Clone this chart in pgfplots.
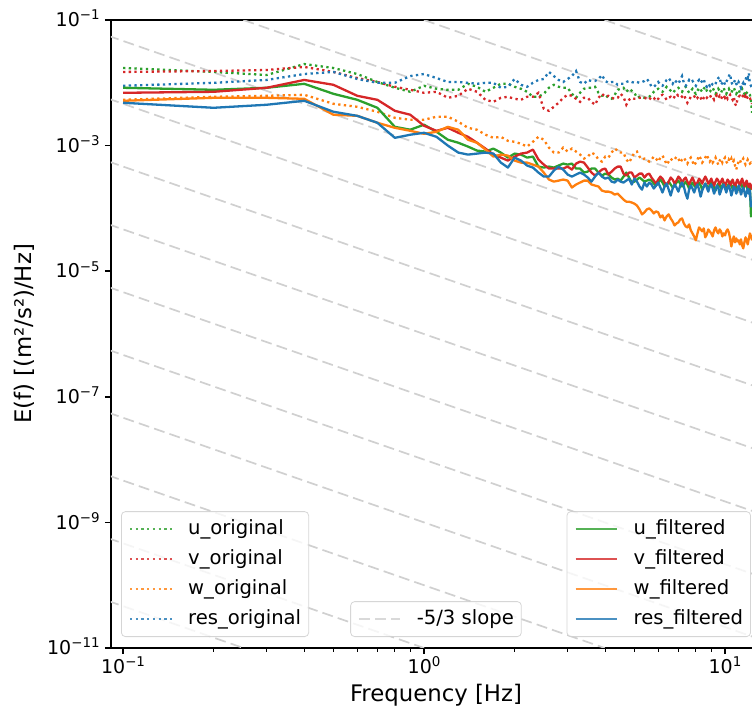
\documentclass[border=0pt]{standalone}
\usepackage{fontspec}
\setmainfont{DejaVu Sans}
\usepackage{pgfplots}
\usepackage{pgfplotstable}
\pgfplotsset{compat=1.18}

\definecolor{tabblue}{HTML}{1F77B4}
\definecolor{taborange}{HTML}{FF7F0E}
\definecolor{tabgreen}{HTML}{2CA02C}
\definecolor{tabred}{HTML}{D62728}
\definecolor{slopegray}{HTML}{D0D0D0}

\newcommand{\tl}[1]{10\raisebox{0.36em}{\fontsize{6.7}{7}\selectfont #1}}

\pgfplotstableread{
f uo vo wo ro uf vf wf rf
0.1 1.72e-2 1.49e-2 5.36e-3 8.96e-3 8.33e-3 6.93e-3 5.17e-3 4.81e-3
0.2 1.49e-2 1.54e-2 5.99e-3 1.00e-2 7.74e-3 7.19e-3 5.77e-3 4.00e-3
0.3 1.33e-2 1.60e-2 6.21e-3 1.11e-2 8.33e-3 8.33e-3 5.77e-3 4.47e-3
0.4 1.99e-2 1.79e-2 6.44e-3 1.38e-2 9.64e-3 1.11e-2 5.56e-3 5.17e-3
0.5 1.72e-2 1.49e-2 4.63e-3 1.49e-2 6.68e-3 9.29e-3 3.10e-3 3.46e-3
0.6 1.38e-2 1.19e-2 4.15e-3 1.15e-2 5.36e-3 6.21e-3 2.98e-3 2.98e-3
0.7 1.03e-2 1.03e-2 3.46e-3 1.00e-2 4.00e-3 5.36e-3 2.31e-3 2.31e-3
0.8 8.33e-3 8.64e-3 2.77e-3 1.00e-2 1.99e-3 3.58e-3 1.92e-3 1.33e-3
0.9 7.19e-3 7.74e-3 2.58e-3 1.28e-2 1.79e-3 3.10e-3 1.72e-3 1.49e-3
1.0 8.96e-3 6.93e-3 2.58e-3 1.38e-2 2.15e-3 2.07e-3 1.54e-3 1.60e-3
1.1 8.03e-3 7.19e-3 2.88e-3 1.19e-2 1.66e-3 1.72e-3 1.66e-3 1.38e-3
1.2 7.74e-3 5.77e-3 2.88e-3 1.03e-2 1.24e-3 1.92e-3 1.99e-3 1.00e-3
1.3 7.74e-3 6.21e-3 2.40e-3 1.03e-2 1.11e-3 1.60e-3 1.79e-3 7.74e-4
1.4 9.64e-3 8.03e-3 1.92e-3 1.00e-2 9.64e-4 1.38e-3 1.24e-3 7.19e-4
1.5 8.64e-3 7.19e-3 1.79e-3 9.64e-3 8.33e-4 1.11e-3 1.11e-3 7.46e-4
1.6 7.19e-3 5.36e-3 1.49e-3 1.00e-2 8.03e-4 8.96e-4 8.64e-4 7.74e-4
1.7 8.33e-3 4.98e-3 1.33e-3 1.00e-2 8.96e-4 7.19e-4 6.68e-4 7.46e-4
1.8 9.64e-3 5.77e-3 1.38e-3 8.33e-3 7.74e-4 6.44e-4 7.19e-4 5.36e-4
1.9 9.64e-3 5.99e-3 1.19e-3 8.64e-3 6.44e-4 5.77e-4 6.93e-4 4.47e-4
2.0 8.64e-3 5.56e-3 1.15e-3 1.15e-2 7.46e-4 6.68e-4 5.77e-4 6.44e-4
2.1 8.03e-3 5.36e-3 1.07e-3 9.29e-3 7.19e-4 7.46e-4 5.36e-4 5.77e-4
2.2 7.19e-3 5.99e-3 9.64e-4 8.64e-3 6.44e-4 7.74e-4 5.36e-4 4.81e-4
2.3 5.99e-3 5.99e-3 1.15e-3 1.00e-2 6.68e-4 8.64e-4 4.98e-4 4.47e-4
2.4 5.99e-3 6.93e-3 1.38e-3 1.11e-2 4.63e-4 5.99e-4 4.63e-4 3.72e-4
2.5 6.68e-3 3.86e-3 1.24e-3 1.15e-2 4.47e-4 4.98e-4 3.72e-4 3.21e-4
2.6 8.33e-3 3.58e-3 9.29e-4 1.49e-2 4.63e-4 4.31e-4 2.88e-4 3.21e-4
2.7 9.29e-3 4.15e-3 7.74e-4 1.28e-2 4.47e-4 4.31e-4 2.67e-4 4.00e-4
2.8 8.64e-3 4.81e-3 7.74e-4 1.11e-2 4.81e-4 4.31e-4 2.77e-4 4.63e-4
2.9 8.33e-3 5.77e-3 9.29e-4 1.03e-2 5.17e-4 4.31e-4 2.88e-4 4.15e-4
3.0 8.33e-3 6.44e-3 8.03e-4 1.15e-2 4.98e-4 4.63e-4 2.77e-4 3.46e-4
3.1 6.68e-3 6.21e-3 8.96e-4 1.28e-2 5.17e-4 4.15e-4 2.15e-4 3.21e-4
3.2 5.77e-3 5.56e-3 8.03e-4 1.54e-2 4.31e-4 5.17e-4 2.40e-4 3.46e-4
3.3 6.93e-3 4.98e-3 7.19e-4 1.03e-2 4.31e-4 5.56e-4 2.58e-4 3.72e-4
3.4 8.03e-3 5.77e-3 6.21e-4 9.64e-3 3.72e-4 5.36e-4 2.77e-4 3.46e-4
3.5 8.33e-3 5.77e-3 6.68e-4 1.11e-2 3.86e-4 4.47e-4 2.77e-4 3.10e-4
3.6 8.33e-3 4.98e-3 7.74e-4 1.07e-2 4.31e-4 3.72e-4 2.40e-4 2.67e-4
3.7 8.64e-3 4.47e-3 7.19e-4 1.07e-2 4.31e-4 3.33e-4 2.31e-4 3.21e-4
3.8 6.93e-3 5.77e-3 5.99e-4 1.15e-2 3.72e-4 3.72e-4 2.23e-4 3.72e-4
3.9 6.21e-3 6.68e-3 5.56e-4 1.33e-2 3.33e-4 4.15e-4 1.92e-4 3.21e-4
4.0 6.44e-3 5.99e-3 6.68e-4 1.07e-2 3.58e-4 4.31e-4 1.85e-4 2.98e-4
4.1 5.77e-3 6.21e-3 6.44e-4 1.00e-2 3.46e-4 3.46e-4 1.85e-4 3.10e-4
4.2 5.56e-3 5.77e-3 7.74e-4 1.03e-2 3.10e-4 3.86e-4 1.79e-4 2.67e-4
4.3 6.44e-3 5.56e-3 8.96e-4 1.03e-2 2.88e-4 4.31e-4 1.66e-4 2.58e-4
4.4 7.74e-3 5.77e-3 8.33e-4 9.29e-3 2.98e-4 4.63e-4 1.72e-4 2.88e-4
4.5 8.03e-3 6.68e-3 7.74e-4 9.64e-3 2.77e-4 4.63e-4 1.54e-4 2.67e-4
4.6 8.33e-3 5.99e-3 7.74e-4 9.64e-3 3.21e-4 3.58e-4 1.38e-4 2.58e-4
4.7 7.19e-3 4.47e-3 5.99e-4 1.03e-2 3.72e-4 3.33e-4 1.28e-4 2.77e-4
4.8 8.03e-3 5.36e-3 5.36e-4 1.07e-2 3.10e-4 3.72e-4 1.28e-4 2.98e-4
4.9 7.46e-3 5.77e-3 6.44e-4 1.03e-2 2.58e-4 3.72e-4 1.24e-4 2.40e-4
5.0 6.93e-3 5.56e-3 7.74e-4 1.00e-2 2.67e-4 3.10e-4 1.19e-4 2.98e-4
5.1 5.77e-3 5.56e-3 8.03e-4 1.03e-2 2.88e-4 3.33e-4 1.11e-4 2.67e-4
5.2 5.99e-3 5.77e-3 6.68e-4 1.00e-2 3.10e-4 3.58e-4 9.64e-5 2.23e-4
5.3 5.99e-3 5.77e-3 5.99e-4 1.03e-2 2.88e-4 3.58e-4 8.03e-5 1.99e-4
5.4 5.77e-3 5.77e-3 6.21e-4 1.07e-2 2.67e-4 3.10e-4 8.64e-5 2.58e-4
5.5 5.77e-3 5.56e-3 5.99e-4 1.15e-2 2.77e-4 3.46e-4 9.64e-5 2.23e-4
5.6 5.99e-3 5.36e-3 5.56e-4 1.03e-2 2.88e-4 3.58e-4 1.00e-4 2.58e-4
5.7 6.44e-3 5.99e-3 5.99e-4 8.64e-3 2.77e-4 3.10e-4 9.29e-5 2.40e-4
5.8 7.19e-3 5.77e-3 6.68e-4 8.64e-3 2.48e-4 2.77e-4 8.33e-5 2.07e-4
5.9 7.74e-3 5.17e-3 6.21e-4 9.29e-3 2.31e-4 2.48e-4 8.96e-5 2.31e-4
6.0 8.03e-3 5.56e-3 5.56e-4 1.03e-2 2.58e-4 2.88e-4 8.64e-5 2.58e-4
6.1 7.46e-3 6.21e-3 6.44e-4 9.29e-3 2.88e-4 3.21e-4 7.19e-5 2.15e-4
6.2 7.19e-3 6.44e-3 6.93e-4 8.96e-3 2.58e-4 2.98e-4 7.74e-5 1.79e-4
6.3 7.74e-3 5.99e-3 5.99e-4 1.00e-2 2.23e-4 2.58e-4 6.44e-5 2.23e-4
6.4 8.64e-3 5.36e-3 4.98e-4 1.11e-2 2.40e-4 2.31e-4 7.46e-5 2.48e-4
6.5 8.03e-3 5.77e-3 5.56e-4 1.19e-2 2.67e-4 2.67e-4 8.03e-5 1.99e-4
6.6 7.46e-3 5.99e-3 6.21e-4 1.07e-2 2.40e-4 3.10e-4 6.93e-5 1.60e-4
6.7 6.93e-3 5.56e-3 5.77e-4 9.64e-3 2.15e-4 2.88e-4 6.21e-5 2.07e-4
6.8 7.46e-3 5.99e-3 5.99e-4 1.11e-2 2.31e-4 2.48e-4 5.36e-5 2.40e-4
6.9 8.03e-3 6.68e-3 6.68e-4 1.03e-2 2.58e-4 2.77e-4 5.77e-5 2.15e-4
7.0 8.33e-3 6.21e-3 6.21e-4 9.64e-3 2.77e-4 3.21e-4 5.99e-5 1.85e-4
7.1 7.74e-3 6.44e-3 5.36e-4 1.11e-2 2.48e-4 2.98e-4 6.68e-5 2.31e-4
7.2 7.19e-3 5.99e-3 5.99e-4 1.28e-2 2.23e-4 2.58e-4 6.93e-5 2.58e-4
7.3 8.03e-3 6.44e-3 6.44e-4 1.00e-2 2.40e-4 2.88e-4 5.77e-5 2.23e-4
7.4 8.64e-3 5.56e-3 5.77e-4 8.96e-3 2.67e-4 3.10e-4 5.17e-5 1.72e-4
7.5 7.74e-3 4.81e-3 5.17e-4 9.64e-3 2.40e-4 2.67e-4 4.98e-5 1.43e-4
7.6 6.93e-3 5.36e-3 5.99e-4 1.11e-2 2.07e-4 2.40e-4 5.56e-5 1.99e-4
7.7 7.46e-3 5.99e-3 6.44e-4 1.03e-2 2.31e-4 2.77e-4 4.47e-5 2.31e-4
7.8 8.03e-3 5.77e-3 5.56e-4 1.07e-2 2.58e-4 3.10e-4 4.00e-5 2.07e-4
7.9 7.19e-3 5.99e-3 4.81e-4 9.64e-3 2.31e-4 2.67e-4 3.58e-5 1.79e-4
8.0 6.68e-3 6.44e-3 5.36e-4 8.96e-3 2.15e-4 2.31e-4 3.10e-5 2.15e-4
8.1 7.46e-3 5.77e-3 5.99e-4 1.03e-2 2.40e-4 2.58e-4 4.00e-5 2.40e-4
8.2 8.33e-3 6.21e-3 6.93e-4 1.11e-2 2.58e-4 2.98e-4 4.98e-5 1.99e-4
8.3 7.74e-3 5.77e-3 6.21e-4 1.00e-2 2.31e-4 2.77e-4 4.63e-5 1.54e-4
8.4 7.19e-3 5.17e-3 5.36e-4 1.07e-2 1.99e-4 2.48e-4 4.31e-5 1.92e-4
8.5 8.03e-3 5.77e-3 5.77e-4 1.15e-2 2.23e-4 2.88e-4 4.81e-5 2.23e-4
8.6 8.64e-3 6.21e-3 6.44e-4 9.29e-3 2.48e-4 3.21e-4 3.46e-5 2.48e-4
8.7 7.46e-3 5.77e-3 7.19e-4 8.64e-3 2.31e-4 2.88e-4 3.86e-5 2.15e-4
8.8 6.93e-3 6.21e-3 6.21e-4 9.64e-3 2.07e-4 2.48e-4 4.63e-5 1.85e-4
8.9 7.19e-3 6.44e-3 5.56e-4 8.96e-3 2.31e-4 2.67e-4 4.31e-5 2.23e-4
9.0 7.74e-3 5.77e-3 5.99e-4 1.00e-2 2.58e-4 2.98e-4 4.00e-5 2.40e-4
9.1 8.33e-3 5.99e-3 5.36e-4 9.29e-3 2.40e-4 2.58e-4 3.58e-5 2.07e-4
9.2 7.46e-3 5.36e-3 5.77e-4 8.96e-3 2.15e-4 2.31e-4 4.47e-5 1.72e-4
9.3 6.68e-3 5.99e-3 6.44e-4 9.64e-3 1.92e-4 2.67e-4 4.98e-5 1.99e-4
9.4 7.19e-3 6.44e-3 5.56e-4 1.11e-2 2.23e-4 2.98e-4 4.31e-5 2.31e-4
9.5 8.03e-3 5.77e-3 4.98e-4 1.19e-2 2.48e-4 2.77e-4 4.00e-5 2.15e-4
9.6 7.46e-3 6.21e-3 5.77e-4 1.24e-2 2.31e-4 2.40e-4 4.63e-5 1.66e-4
9.7 6.93e-3 5.56e-3 6.21e-4 9.29e-3 2.07e-4 2.67e-4 4.31e-5 1.92e-4
9.8 7.74e-3 5.99e-3 5.36e-4 1.00e-2 2.31e-4 2.98e-4 3.58e-5 2.23e-4
9.9 8.33e-3 6.44e-3 5.99e-4 1.07e-2 2.58e-4 2.58e-4 4.00e-5 2.40e-4
10.0 7.19e-3 5.77e-3 6.44e-4 9.29e-3 2.31e-4 2.23e-4 3.72e-5 2.07e-4
10.1 6.68e-3 6.21e-3 5.56e-4 1.03e-2 1.99e-4 2.58e-4 4.31e-5 1.79e-4
10.2 7.46e-3 5.56e-3 5.17e-4 1.15e-2 2.23e-4 2.88e-4 4.63e-5 2.15e-4
10.3 8.03e-3 5.99e-3 5.99e-4 1.28e-2 2.48e-4 2.67e-4 4.15e-5 2.31e-4
10.4 7.19e-3 6.44e-3 5.56e-4 1.38e-2 2.67e-4 2.31e-4 3.33e-5 1.99e-4
10.5 6.93e-3 5.77e-3 6.21e-4 1.03e-2 2.31e-4 2.58e-4 2.48e-5 1.60e-4
10.6 7.74e-3 5.36e-3 5.36e-4 9.29e-3 2.07e-4 2.88e-4 3.10e-5 1.92e-4
10.7 8.33e-3 5.99e-3 5.77e-4 1.00e-2 2.31e-4 2.48e-4 3.58e-5 2.23e-4
10.8 7.46e-3 4.63e-3 4.81e-4 1.11e-2 2.48e-4 2.23e-4 2.88e-5 2.07e-4
10.9 6.68e-3 4.31e-3 4.15e-4 9.64e-3 2.15e-4 2.58e-4 3.33e-5 1.72e-4
11.0 7.19e-3 5.56e-3 4.98e-4 8.96e-3 1.92e-4 2.88e-4 2.98e-5 1.99e-4
11.1 7.74e-3 5.99e-3 5.56e-4 1.03e-2 2.15e-4 2.58e-4 3.10e-5 2.31e-4
11.2 6.93e-3 6.21e-3 5.99e-4 9.64e-3 2.40e-4 2.31e-4 2.67e-5 2.07e-4
11.3 7.46e-3 5.77e-3 5.36e-4 8.33e-3 2.58e-4 2.67e-4 3.21e-5 1.66e-4
11.4 8.03e-3 5.99e-3 5.77e-4 9.29e-3 2.23e-4 2.98e-4 2.58e-5 1.92e-4
11.5 7.19e-3 6.44e-3 6.21e-4 1.00e-2 1.99e-4 2.58e-4 2.31e-5 2.15e-4
11.6 6.68e-3 5.77e-3 5.56e-4 8.96e-3 2.31e-4 2.23e-4 2.88e-5 1.85e-4
11.7 7.46e-3 6.21e-3 4.98e-4 1.11e-2 2.48e-4 2.48e-4 3.46e-5 1.54e-4
11.8 6.93e-3 5.56e-3 5.36e-4 1.28e-2 2.23e-4 2.77e-4 3.10e-5 1.79e-4
11.9 7.19e-3 5.99e-3 5.99e-4 1.19e-2 1.99e-4 2.40e-4 2.67e-5 2.07e-4
12.0 6.68e-3 6.21e-3 5.56e-4 1.43e-2 2.31e-4 2.15e-4 3.33e-5 1.72e-4
12.1 6.44e-3 5.77e-3 5.17e-4 9.64e-3 2.15e-4 2.48e-4 4.00e-5 1.92e-4
12.2 5.17e-3 4.98e-3 5.36e-4 8.96e-3 7.46e-5 2.31e-4 3.58e-5 1.07e-4
12.3 3.33e-3 4.63e-3 5.17e-4 9.29e-3 8.03e-5 1.99e-4 3.10e-5 1.15e-4
}\spec

\tikzset{
  myslope/.style={slopegray, line width=0.85pt, dash pattern=on 5.5pt off 2.6pt},
  myorig/.style={line width=1.15pt, dash pattern=on 1.15pt off 1.7pt},
  myfilt/.style={line width=1.15pt, line join=round},
  mylegbox/.style={draw=black!20, draw opacity=0.8, rounded corners=2pt,
      fill=white, fill opacity=0.8, text opacity=1,
      font=\fontsize{9.8}{11}\selectfont,
      inner xsep=3.75pt, inner ysep=4pt, row sep=5.5pt,
      nodes={inner sep=0pt, text height=7.2pt, text depth=2.3pt}},
}

\begin{document}
\begin{tikzpicture}
\begin{axis}[scale only axis, width=325pt, height=314pt,
  xmode=log, ymode=log, xmin=0.0912, xmax=13.17, ymin=1e-11, ymax=1e-1,
  legend cell align=left,
  legend image code/.code={\draw[#1] (0pt,0pt) -- (20.75pt,0pt); \path (28.5pt,0pt);},
  legend style={mylegbox, at={(axis description cs:0.5,0.0175)}, anchor=south},
  axis line style={line width=0.75pt},
  tick pos=left, tick align=outside,
  major tick length=3pt, minor tick length=1.8pt,
  every major tick/.append style={line width=0.75pt, black},
  every minor tick/.append style={line width=0.55pt, black},
  xtick={0.1,1,10}, xticklabels={\tl{−1},\tl{0},\tl{1}},
  minor xtick={0.2,0.3,0.4,0.5,0.6,0.7,0.8,0.9,2,3,4,5,6,7,8,9},
  ytick={1e-11,1e-9,1e-7,1e-5,1e-3,1e-1},
  yticklabels={\tl{−11},\tl{−9},\tl{−7},\tl{−5},\tl{−3},\tl{−1}},
  yminorticks=false,
  xticklabel style={font=\fontsize{9.5}{11}\selectfont, anchor=base, inner sep=0pt, yshift=-9.6pt},
  yticklabel style={font=\fontsize{9.5}{11}\selectfont, anchor=base east, inner sep=0pt, xshift=-2.5pt, yshift=-3.4pt},
  xlabel={Frequency [Hz]}, ylabel={E(f) [(m²/s²)/Hz]},
  xlabel style={at={(axis description cs:0.5,-0.0855)}, anchor=base, font=\fontsize{11.4}{13.5}\selectfont},
  ylabel style={at={(axis description cs:-0.122,0.5)}, anchor=base, font=\fontsize{11.4}{13.5}\selectfont},
]
\addplot[myslope, mark=none] coordinates {(3.981,0.1) (15.85,1e-2)};
\addlegendentry{-5/3 slope}
\addplot[myslope, mark=none, forget plot] coordinates {(1,0.1) (15.85,1e-3)};
\addplot[myslope, mark=none, forget plot] coordinates {(0.2512,0.1) (15.85,1e-4)};
\addplot[myslope, mark=none, forget plot] coordinates {(0.07943,6.813e-2) (15.85,1e-5)};
\addplot[myslope, mark=none, forget plot] coordinates {(0.07943,6.813e-3) (15.85,1e-6)};
\addplot[myslope, mark=none, forget plot] coordinates {(0.07943,6.813e-4) (15.85,1e-7)};
\addplot[myslope, mark=none, forget plot] coordinates {(0.07943,6.813e-5) (15.85,1e-8)};
\addplot[myslope, mark=none, forget plot] coordinates {(0.07943,6.813e-6) (15.85,1e-9)};
\addplot[myslope, mark=none, forget plot] coordinates {(0.07943,6.813e-7) (15.85,1e-10)};
\addplot[myslope, mark=none, forget plot] coordinates {(0.07943,6.813e-8) (15.85,1e-11)};
\addplot[myslope, mark=none, forget plot] coordinates {(0.07943,6.813e-9) (3.981,1e-11)};
\addplot[myslope, mark=none, forget plot] coordinates {(0.07943,6.813e-10) (1,1e-11)};
\addplot[myslope, mark=none, forget plot] coordinates {(0.07943,6.813e-11) (0.2512,1e-11)};
\end{axis}

\begin{axis}[scale only axis, width=325pt, height=314pt,
  xmode=log, ymode=log, xmin=0.0912, xmax=13.17, ymin=1e-11, ymax=1e-1,
  hide axis,
  legend cell align=left,
  legend image code/.code={\draw[#1] (0pt,0pt) -- (20.75pt,0pt); \path (28.5pt,0pt);},
  legend style={mylegbox, at={(axis description cs:0.0154,0.0175)}, anchor=south west}]
\addplot[myorig, tabgreen, mark=none] table[x=f, y=uo] {\spec};
\addlegendentry{u\_original}
\addplot[myorig, tabred, mark=none] table[x=f, y=vo] {\spec};
\addlegendentry{v\_original}
\addplot[myorig, taborange, mark=none] table[x=f, y=wo] {\spec};
\addlegendentry{w\_original}
\addplot[myorig, tabblue, mark=none] table[x=f, y=ro] {\spec};
\addlegendentry{res\_original}
\end{axis}

\begin{axis}[scale only axis, width=325pt, height=314pt,
  xmode=log, ymode=log, xmin=0.0912, xmax=13.17, ymin=1e-11, ymax=1e-1,
  hide axis,
  legend cell align=left,
  legend image code/.code={\draw[#1] (0pt,0pt) -- (20.75pt,0pt); \path (28.5pt,0pt);},
  legend style={mylegbox, at={(axis description cs:0.9846,0.0175)}, anchor=south east}]
\addplot[myfilt, tabgreen, mark=none] table[x=f, y=uf] {\spec};
\addlegendentry{u\_filtered}
\addplot[myfilt, tabred, mark=none] table[x=f, y=vf] {\spec};
\addlegendentry{v\_filtered}
\addplot[myfilt, taborange, mark=none] table[x=f, y=wf] {\spec};
\addlegendentry{w\_filtered}
\addplot[myfilt, tabblue, mark=none] table[x=f, y=rf] {\spec};
\addlegendentry{res\_filtered}
\end{axis}

\pgfresetboundingbox
\path[use as bounding box] ([shift={(-55.5pt,-31.5pt)}]current axis.south west) rectangle ([shift={(320.5pt,324pt)}]current axis.south west);
\end{tikzpicture}
\end{document}
